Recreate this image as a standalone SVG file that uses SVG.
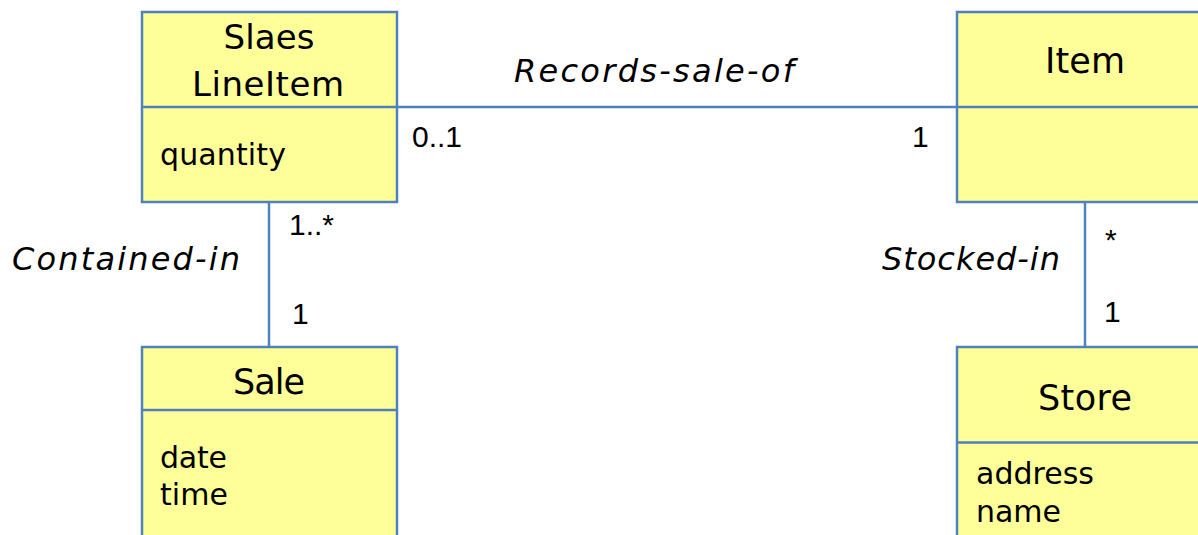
<svg xmlns="http://www.w3.org/2000/svg" width="1198" height="535" viewBox="0 0 1198 535">
<style>
.box{fill:#FFFF99;stroke:#4F81BD;stroke-width:2.5}
.div{stroke:#4F81BD;stroke-width:2.5}
.conn{stroke:#4F81BD;stroke-width:2.5;fill:none}
text{font-family:"DejaVu Sans",Verdana,sans-serif;fill:#000}
.title{font-size:34px;text-anchor:middle}
.title2{font-size:35px;text-anchor:middle}
.attr{font-size:30px}
.lab{font-size:32px;font-style:italic}
.mult{font-family:"Liberation Sans",Arial,sans-serif;font-size:30px}
</style>
<rect width="1198" height="535" fill="#fff"/>
<g id="connectors">
<line class="conn" x1="397" y1="107" x2="957" y2="107"/>
<line class="conn" x1="269" y1="202" x2="269" y2="347"/>
<line class="conn" x1="1085" y1="202" x2="1085" y2="347"/>
<text class="lab" x="514" y="81.5" textLength="280" lengthAdjust="spacing">Records-sale-of</text>
<text class="lab" x="12" y="269.5" textLength="228" lengthAdjust="spacing">Contained-in</text>
<text class="lab" x="882" y="269.5" textLength="178" lengthAdjust="spacing">Stocked-in</text>
<text class="mult" x="412" y="146.5">0..1</text>
<text class="mult" x="912" y="146.5">1</text>
<text class="mult" x="289" y="235">1..*</text>
<text class="mult" x="292" y="323.5">1</text>
<text class="mult" x="1105" y="250">*</text>
<text class="mult" x="1104" y="322">1</text>
</g>
<g id="SalesLineItem">
<rect class="box" x="142" y="12" width="255" height="190"/>
<line class="div" x1="142" y1="107" x2="397" y2="107"/>
<text class="title" x="269" y="48.5" textLength="91" lengthAdjust="spacing">Slaes</text>
<text class="title" x="268" y="95.5" textLength="152" lengthAdjust="spacing">LineItem</text>
<text class="attr" x="160" y="165" textLength="126" lengthAdjust="spacing">quantity</text>
</g>
<g id="Item">
<rect class="box" x="957" y="12" width="300" height="190"/>
<line class="div" x1="957" y1="107" x2="1257" y2="107"/>
<text class="title2" x="1085" y="72.5" textLength="80" lengthAdjust="spacing">Item</text>
</g>
<g id="Sale">
<rect class="box" x="142" y="347" width="255" height="250"/>
<line class="div" x1="142" y1="410" x2="397" y2="410"/>
<text class="title2" x="269" y="393.5" textLength="72" lengthAdjust="spacing">Sale</text>
<text class="attr" x="160" y="467.5" textLength="67" lengthAdjust="spacing">date</text>
<text class="attr" x="160" y="505" textLength="68" lengthAdjust="spacing">time</text>
</g>
<g id="Store">
<rect class="box" x="957" y="347" width="300" height="250"/>
<line class="div" x1="957" y1="442.5" x2="1257" y2="442.5"/>
<text class="title2" x="1085" y="409.5" textLength="94" lengthAdjust="spacing">Store</text>
<text class="attr" x="976" y="483.5" textLength="118" lengthAdjust="spacing">address</text>
<text class="attr" x="976" y="521.5" textLength="85" lengthAdjust="spacing">name</text>
</g>
</svg>
